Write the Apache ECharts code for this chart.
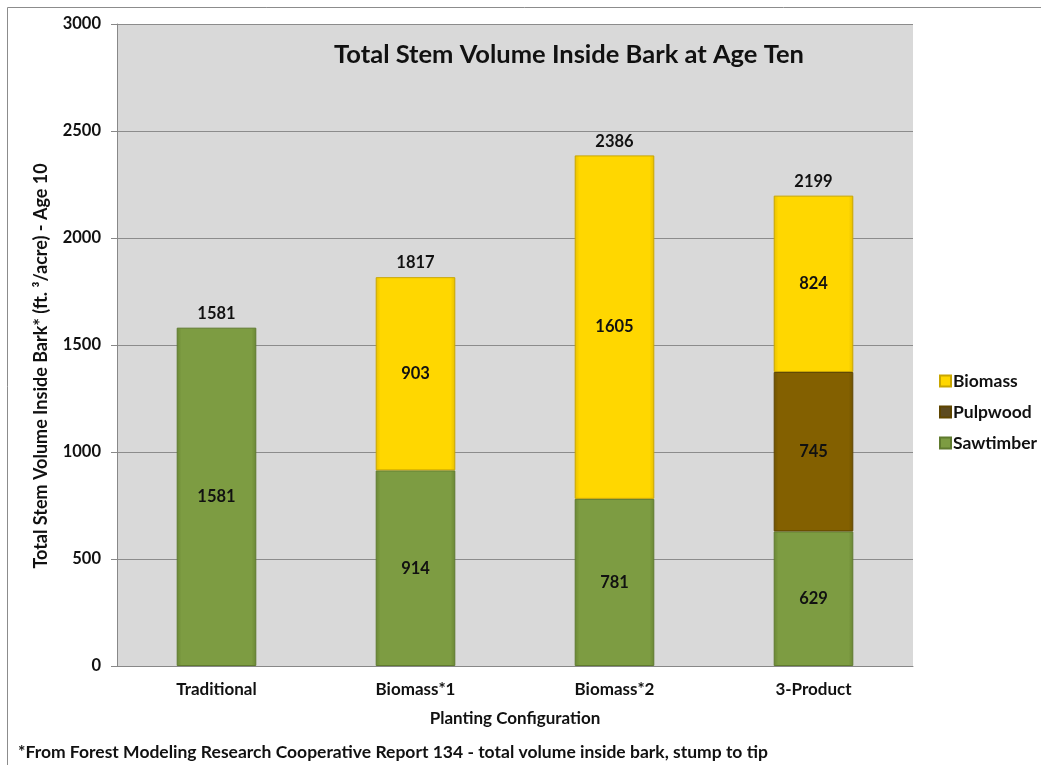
<!DOCTYPE html>
<html><head><meta charset="utf-8">
<script src="https://cdn.jsdelivr.net/npm/echarts@6/dist/echarts.min.js"></script>
<style>html,body{margin:0;padding:0;background:#fff}#c{width:1041px;height:765px}</style>
</head><body><div id="c"></div>
<script>
const categories = ['Traditional', 'Biomass*1', 'Biomass*2', '3-Product'];
const sawtimber = [1581, 914, 781, 629];
const pulpwood = [null, null, null, 745];
const biomass = [null, 903, 1605, 824];
const totals = [1581, 1817, 2386, 2199];
const yTicks = [0, 500, 1000, 1500, 2000, 2500, 3000];

const FONT = 'Lato';
function grad(edge, mid) {
  return new echarts.graphic.LinearGradient(0, 0, 1, 0, [
    {offset: 0, color: edge}, {offset: 0.06, color: mid}, {offset: 0.94, color: mid}, {offset: 1, color: edge}
  ]);
}
const colGreen = grad('#6a8734', '#7d9c42');
const colBrown = grad('#6f5300', '#836000');
const colYellow = grad('#e8c000', '#ffd700');

const chart = echarts.init(document.getElementById('c'));
const lbl = {show: true, position: 'inside', color: '#111', fontFamily: FONT, fontWeight: 'bold', fontSize: 16.5};
chart.setOption({
  animation: false,
  textStyle: {fontFamily: FONT},
  graphic: [
    {type: 'rect', shape: {x: 7.5, y: 7.5, width: 1060, height: 800}, style: {fill: 'none', stroke: '#8c8c8c', lineWidth: 1}, z: -10},
    {type: 'text', x: 18, y: 752, style: {text: '*From Forest Modeling Research Cooperative Report 134 - total volume inside bark, stump to tip',
      font: 'bold 17.5px Lato', fill: '#111', verticalAlign: 'middle'}},
    {type: 'text', x: 41, y: 366, rotation: Math.PI / 2, style: {text: 'Total Stem Volume Inside Bark* (ft. ³/acre) - Age 10',
      font: 'bold 18px Lato', fill: '#111', align: 'center', verticalAlign: 'middle'}}
  ],
  title: {text: 'Total Stem Volume Inside Bark at Age Ten', left: 564, top: 37, textAlign: 'center',
    textStyle: {fontFamily: FONT, fontWeight: 'bold', fontSize: 25.5, color: '#111'}},
  legend: {
    data: [
      {name: 'Biomass', itemStyle: {color: '#ffd700'}},
      {name: 'Pulpwood', itemStyle: {color: '#5c4a20'}},
      {name: 'Sawtimber', itemStyle: {color: '#7d9c42'}}
    ],
    orient: 'vertical', left: 934, top: 367,
    itemWidth: 11, itemHeight: 11, itemGap: 13, icon: 'rect',
    textStyle: {fontFamily: FONT, fontWeight: 'bold', fontSize: 17.5, color: '#111', padding: [0, 0, 0, -3]}
  },
  grid: {left: 117, right: 128, top: 24, bottom: 99, show: true, backgroundColor: '#d9d9d9', borderWidth: 0},
  xAxis: {
    type: 'category', data: categories,
    name: 'Planting Configuration', nameLocation: 'middle', nameGap: 44,
    nameTextStyle: {fontFamily: FONT, fontWeight: 'bold', fontSize: 17, color: '#111'},
    axisLine: {lineStyle: {color: '#888'}}, axisTick: {show: false},
    axisLabel: {fontFamily: FONT, fontWeight: 'bold', fontSize: 17, color: '#111', margin: 15}
  },
  yAxis: {
    type: 'value', min: 0, max: 3000, interval: 500,
    axisLine: {show: true, lineStyle: {color: '#888'}},
    axisTick: {show: true, length: 6, lineStyle: {color: '#888'}},
    splitLine: {lineStyle: {color: '#8c8c8c'}},
    axisLabel: {fontFamily: FONT, fontWeight: 'bold', fontSize: 16.5, color: '#111', margin: 16,
      formatter: v => yTicks.includes(v) ? String(v) : ''}
  },
  series: [
    {name: 'Sawtimber', type: 'bar', stack: 's', data: sawtimber, barWidth: '40%',
      itemStyle: {color: colGreen, borderColor: '#5f7a2e', borderWidth: 1}, label: lbl},
    {name: 'Pulpwood', type: 'bar', stack: 's', data: pulpwood,
      itemStyle: {color: colBrown, borderColor: '#5e4500', borderWidth: 1}, label: lbl},
    {name: 'Biomass', type: 'bar', stack: 's', data: biomass,
      itemStyle: {color: colYellow, borderColor: '#c9a600', borderWidth: 1}, label: lbl},
    {name: 'Total', type: 'scatter', data: totals, symbolSize: 1, silent: true,
      itemStyle: {color: 'rgba(0,0,0,0)', opacity: 1},
      label: {show: true, position: 'top', distance: 5, color: '#111', opacity: 1, fontFamily: FONT, fontWeight: 'bold', fontSize: 16.5,
        formatter: p => totals[p.dataIndex]}}
  ]
});
</script></body></html>
